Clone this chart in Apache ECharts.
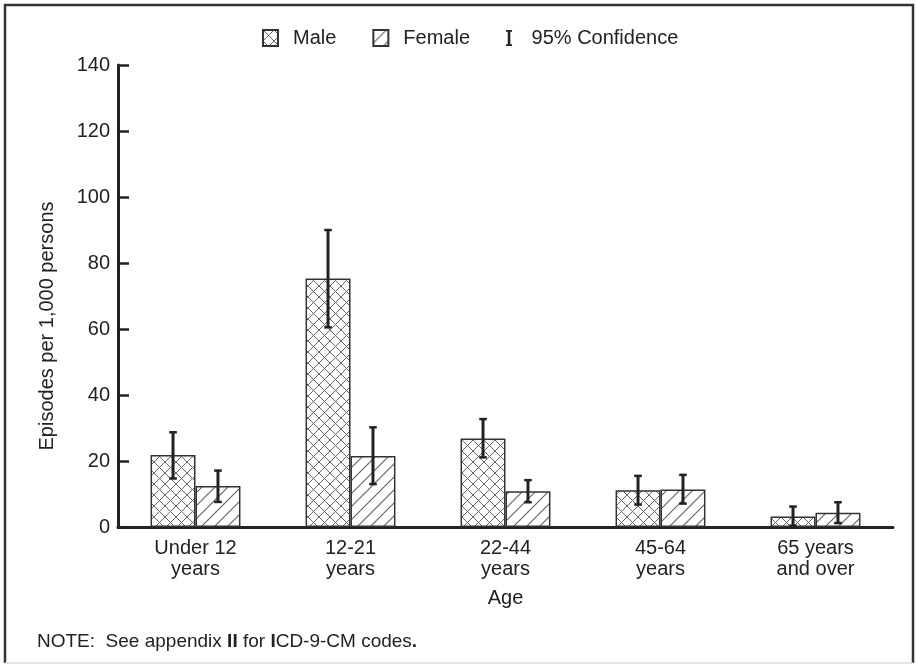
<!DOCTYPE html>
<html>
<head>
<meta charset="utf-8">
<script src="https://cdn.jsdelivr.net/npm/echarts@6/dist/echarts.min.js"></script>
<style>
  html, body { margin: 0; padding: 0; background: #fff; }
  #chart { width: 917px; height: 664px; }
</style>
</head>
<body>
<div id="chart"></div>
<script>
// Episodes per 1,000 persons by age and sex, with 95% confidence intervals
const categories = ['Under 12\nyears', '12-21\nyears', '22-44\nyears', '45-64\nyears', '65 years\nand over'];
const maleRate = [21.8, 75.3, 26.8, 11.1, 3.2];
const maleLow = [14.7, 60.5, 21.1, 6.8, 0.4];
const maleHigh = [28.7, 90.0, 32.7, 15.5, 6.2];
const femaleRate = [12.4, 21.5, 10.8, 11.4, 4.3];
const femaleLow = [7.6, 13.0, 7.5, 7.1, 1.2];
const femaleHigh = [17.1, 30.2, 14.2, 15.8, 7.5];
const yMin = 0, yMax = 140, yStep = 20;

const FONT = '"Liberation Sans", Arial, Helvetica, sans-serif';
const INK = '#222';
const BAR_FRAC = 0.29; // share of the category band taken by each bar

// Cross-hatch fill for the male bars
function crossHatch() {
  const s = 11;
  const c = document.createElement('canvas');
  c.width = s; c.height = s;
  const g = c.getContext('2d');
  g.fillStyle = '#fff'; g.fillRect(0, 0, s, s);
  g.strokeStyle = '#666'; g.lineWidth = 1;
  g.beginPath();
  g.moveTo(-1, -1); g.lineTo(s + 1, s + 1);
  g.moveTo(-1, s + 1); g.lineTo(s + 1, -1);
  g.stroke();
  return c;
}
// Single diagonal hatch for the female bars
function diagHatch() {
  const s = 13;
  const c = document.createElement('canvas');
  c.width = s; c.height = s;
  const g = c.getContext('2d');
  g.fillStyle = '#fff'; g.fillRect(0, 0, s, s);
  g.strokeStyle = '#666'; g.lineWidth = 1.2;
  g.beginPath();
  g.moveTo(-1, s + 1); g.lineTo(s + 1, -1);
  g.moveTo(-1, 1); g.lineTo(1, -1);
  g.moveTo(s - 1, s + 1); g.lineTo(s + 1, s - 1);
  g.stroke();
  return c;
}

// Error bar records: [category index, low, high, side(-1 male / +1 female)]
const ciData = [];
categories.forEach((_, i) => {
  ciData.push([i, maleLow[i], maleHigh[i], -1]);
  ciData.push([i, femaleLow[i], femaleHigh[i], 1]);
});

function renderCI(params, api) {
  const band = api.size([1, 0])[0];
  const side = api.value(3);
  const lo = api.coord([api.value(0), api.value(1)]);
  const hi = api.coord([api.value(0), api.value(2)]);
  const x = lo[0] + side * band * BAR_FRAC / 2;
  const cap = 3.8;
  return {
    type: 'group',
    children: [
      { type: 'line', shape: { x1: x, y1: hi[1], x2: x, y2: lo[1] }, style: { stroke: INK, lineWidth: 3 } },
      { type: 'line', shape: { x1: x - cap, y1: hi[1], x2: x + cap, y2: hi[1] }, style: { stroke: INK, lineWidth: 2.5 } },
      { type: 'line', shape: { x1: x - cap, y1: lo[1], x2: x + cap, y2: lo[1] }, style: { stroke: INK, lineWidth: 2.5 } }
    ]
  };
}

const chart = echarts.init(document.getElementById('chart'), null, { renderer: 'canvas' });
const malePattern = { image: crossHatch(), repeat: 'repeat' };
const femalePattern = { image: diagHatch(), repeat: 'repeat' };

chart.setOption({
  backgroundColor: '#fff',
  animation: false,
  textStyle: { fontFamily: FONT, color: INK },
  legend: {
    left: 262,
    top: 28,
    padding: 0,
    itemWidth: 15,
    itemHeight: 16,
    itemGap: 36,
    textStyle: { fontFamily: FONT, fontSize: 20, color: INK, padding: [0, 0, 0, 10] },
    data: [
      { name: 'Male', icon: 'rect' },
      { name: 'Female', icon: 'rect' },
      { name: '95% Confidence', icon: 'path://M0,0L6,0L6,1.8L4.3,1.8L4.3,14.2L6,14.2L6,16L0,16L0,14.2L1.7,14.2L1.7,1.8L0,1.8Z', itemStyle: { color: INK } }
    ]
  },
  grid: { left: 118, right: 24, top: 65, bottom: 137, containLabel: false },
  xAxis: {
    type: 'category',
    data: categories,
    name: 'Age',
    nameLocation: 'middle',
    nameGap: 61,
    nameTextStyle: { fontFamily: FONT, fontSize: 20, color: INK },
    axisLine: { lineStyle: { color: INK, width: 3 } },
    axisTick: { show: false },
    axisLabel: { fontFamily: FONT, fontSize: 20, lineHeight: 21, color: INK, margin: 11, interval: 0 },
    splitLine: { show: false }
  },
  yAxis: {
    type: 'value',
    min: yMin,
    max: yMax,
    interval: yStep,
    axisLine: { show: true, lineStyle: { color: INK, width: 3 } },
    axisTick: { show: true, inside: true, length: 11, lineStyle: { color: INK, width: 2.5 } },
    axisLabel: { fontFamily: FONT, fontSize: 20, color: INK, margin: 8 },
    splitLine: { show: false }
  },
  series: [
    {
      name: 'Male',
      type: 'bar',
      data: maleRate,
      barWidth: (BAR_FRAC * 100) + '%',
      barGap: '0%',
      itemStyle: { color: malePattern, borderColor: '#333', borderWidth: 1.5 }
    },
    {
      name: 'Female',
      type: 'bar',
      data: femaleRate,
      barWidth: (BAR_FRAC * 100) + '%',
      barGap: '0%',
      itemStyle: { color: femalePattern, borderColor: '#333', borderWidth: 1.5 }
    },
    {
      name: '95% Confidence',
      type: 'custom',
      renderItem: renderCI,
      data: ciData,
      encode: { x: 0, y: [1, 2] },
      itemStyle: { color: INK },
      z: 5
    }
  ],
  graphic: [
    // page frame: dark top, left and right edges, faint bottom edge
    { type: 'polyline', shape: { points: [[5, 663], [5, 5], [913, 5], [913, 663]] }, style: { stroke: '#333', lineWidth: 2.5, fill: null }, silent: true },
    { type: 'line', shape: { x1: 5, y1: 663, x2: 913, y2: 663 }, style: { stroke: '#ddd', lineWidth: 1.5 }, silent: true },
    {
      type: 'text',
      x: 47, y: 326,
      rotation: Math.PI / 2,
      style: { text: 'Episodes per 1,000 persons', fontFamily: FONT, fontSize: 20, fill: INK, align: 'center', verticalAlign: 'middle' }
    },
    {
      type: 'text',
      x: 37, y: 642,
      style: {
        text: 'NOTE:  See appendix {b|II} for {b|I}CD-9-CM codes{b|.}',
        fontFamily: FONT, fontSize: 19, fill: INK, verticalAlign: 'middle',
        rich: { b: { fontFamily: FONT, fontSize: 19, fontWeight: 'bold', fill: INK } }
      }
    }
  ]
});
</script>
</body>
</html>
